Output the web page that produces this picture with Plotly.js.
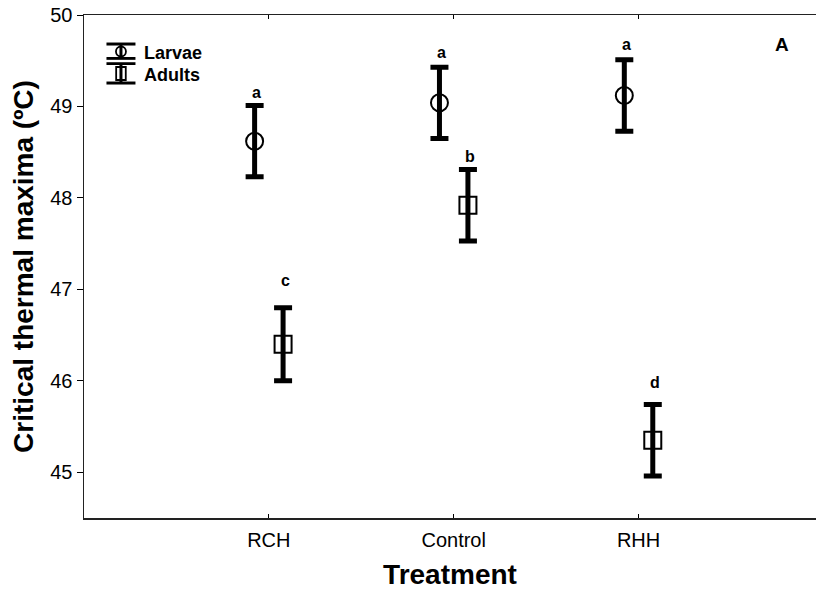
<!DOCTYPE html>
<html>
<head>
<meta charset="utf-8">
<script src="https://cdn.plot.ly/plotly-3.0.1.min.js"></script>
<style>html,body{margin:0;padding:0;background:#fff;}#chart{width:816px;height:594px;}</style>
</head>
<body>
<div id="chart"></div>
<script>
// ---- data ----
const categories   = ["RCH", "Control", "RHH"];
const larvaeMean   = [48.62, 49.04, 49.12];
const larvaeErr    = [0.39, 0.39, 0.39];
const adultsMean   = [46.40, 47.92, 45.35];
const adultsErr    = [0.40, 0.39, 0.39];
const larvaeLetters = ["a", "a", "a"];
const adultsLetters = ["c", "b", "d"];
const seriesNames  = ["Larvae", "Adults"];
const panelLabel = "A";

const FONT = "Liberation Sans, Arial, Helvetica, sans-serif";
const idx = categories.map((c, i) => i + 1);
const off = 0.077;
const xL = idx.map(v => v - off);
const xA = idx.map(v => v + off);

const larvaeShift = [13, 15, 15];
const adultsShift = [27, 13, 22];

const errStyle = {type: "data", thickness: 5, width: 9, color: "#000"};

const traces = [
  {
    type: "scatter", mode: "markers", name: seriesNames[0],
    x: xL, y: larvaeMean,
    error_y: Object.assign({array: larvaeErr}, errStyle),
    marker: {symbol: "circle-open", size: 17, color: "#000", line: {width: 2, color: "#000"}},
    showlegend: false
  },
  {
    type: "scatter", mode: "markers", name: seriesNames[1],
    x: xA, y: adultsMean,
    error_y: Object.assign({array: adultsErr}, errStyle),
    marker: {symbol: "square-open", size: 17, color: "#000", line: {width: 2, color: "#000"}},
    showlegend: false
  }
];

const annotations = [];
larvaeLetters.forEach((t, i) => annotations.push({
  x: xL[i], y: larvaeMean[i] + larvaeErr[i], xref: "x", yref: "y", text: "<b>" + t + "</b>",
  showarrow: false, yanchor: "middle", xanchor: "center", yshift: larvaeShift[i], xshift: 2,
  font: {family: FONT, size: 16, color: "#000"}
}));
adultsLetters.forEach((t, i) => annotations.push({
  x: xA[i], y: adultsMean[i] + adultsErr[i], xref: "x", yref: "y", text: "<b>" + t + "</b>",
  showarrow: false, yanchor: "middle", xanchor: "center", yshift: adultsShift[i], xshift: 2,
  font: {family: FONT, size: 16, color: "#000"}
}));
annotations.push({
  xref: "paper", yref: "paper", x: 0.9536, y: 0.9423, text: "<b>" + panelLabel + "</b>",
  showarrow: false, xanchor: "center", yanchor: "middle", font: {family: FONT, size: 19, color: "#000"}
});
// legend text
annotations.push({
  xref: "paper", yref: "paper", x: 0.0792, y: 0.9245, text: "<b>" + seriesNames[0] + "</b>",
  showarrow: false, xanchor: "left", yanchor: "middle", font: {family: FONT, size: 18, color: "#000"}
});
annotations.push({
  xref: "paper", yref: "paper", x: 0.0792, y: 0.8807, text: "<b>" + seriesNames[1] + "</b>",
  showarrow: false, xanchor: "left", yanchor: "middle", font: {family: FONT, size: 18, color: "#000"}
});

// legend icons (pixel offsets around an anchor in the plot area)
const ax = 0.0505, ay = 0.9085;
function pl(x0, y0, x1, y1, w) {
  return {type: "line", xref: "paper", yref: "paper", xsizemode: "pixel", ysizemode: "pixel",
    xanchor: ax, yanchor: ay, x0: x0, x1: x1, y0: y0, y1: y1, line: {color: "#000", width: w}};
}
const shapes = [
  pl(-14.5, 17, 14.5, 17, 3),
  pl(-14.5, 2.6, 14.5, 2.6, 2.8),
  pl(-14.5, -2.6, 14.5, -2.6, 2.8),
  pl(-14.5, -22, 14.5, -22, 3),
  pl(0, 17, 0, 2.6, 3),
  pl(0, -2.6, 0, -22, 3),
  {type: "circle", xref: "paper", yref: "paper", xsizemode: "pixel", ysizemode: "pixel",
    xanchor: ax, yanchor: ay, x0: -5, x1: 5, y0: 4.5, y1: 14.5, line: {color: "#000", width: 1.8}},
  {type: "rect", xref: "paper", yref: "paper", xsizemode: "pixel", ysizemode: "pixel",
    xanchor: ax, yanchor: ay, x0: -4.8, x1: 4.8, y0: -6, y1: -19, line: {color: "#000", width: 1.8}}
];

const layout = {
  width: 816, height: 594,
  margin: {l: 84, r: 0, t: 15, b: 76},
  paper_bgcolor: "#fff", plot_bgcolor: "#fff",
  showlegend: false,
  font: {family: FONT, color: "#000"},
  xaxis: {
    range: [0, 3.96], tickvals: idx, ticktext: categories,
    ticks: "inside", ticklen: 4, tickwidth: 1, tickcolor: "#000",
    showline: true, linecolor: "#222", linewidth: 1.5, mirror: "ticks",
    showgrid: false, zeroline: false, ticklabelstandoff: 3,
    tickfont: {family: FONT, size: 20, color: "#000"},
    title: {text: "<b>Treatment</b>", font: {family: FONT, size: 28, color: "#000"}, standoff: 15},
    automargin: false
  },
  yaxis: {
    range: [44.5, 50], dtick: 1, tick0: 45,
    ticks: "outside", ticklen: 6, tickwidth: 1, tickcolor: "#000",
    showline: true, linecolor: "#222", linewidth: 1.5, mirror: false,
    showgrid: false, zeroline: false,
    tickfont: {family: FONT, size: 20, color: "#000"},
    title: {text: "<b>Critical thermal maxima (ºC)</b>", font: {family: FONT, size: 28, color: "#000"}, standoff: 8},
    automargin: false
  },
  annotations: annotations,
  shapes: shapes
};

Plotly.newPlot("chart", traces, layout, {displayModeBar: false, staticPlot: true});
</script>
</body>
</html>
